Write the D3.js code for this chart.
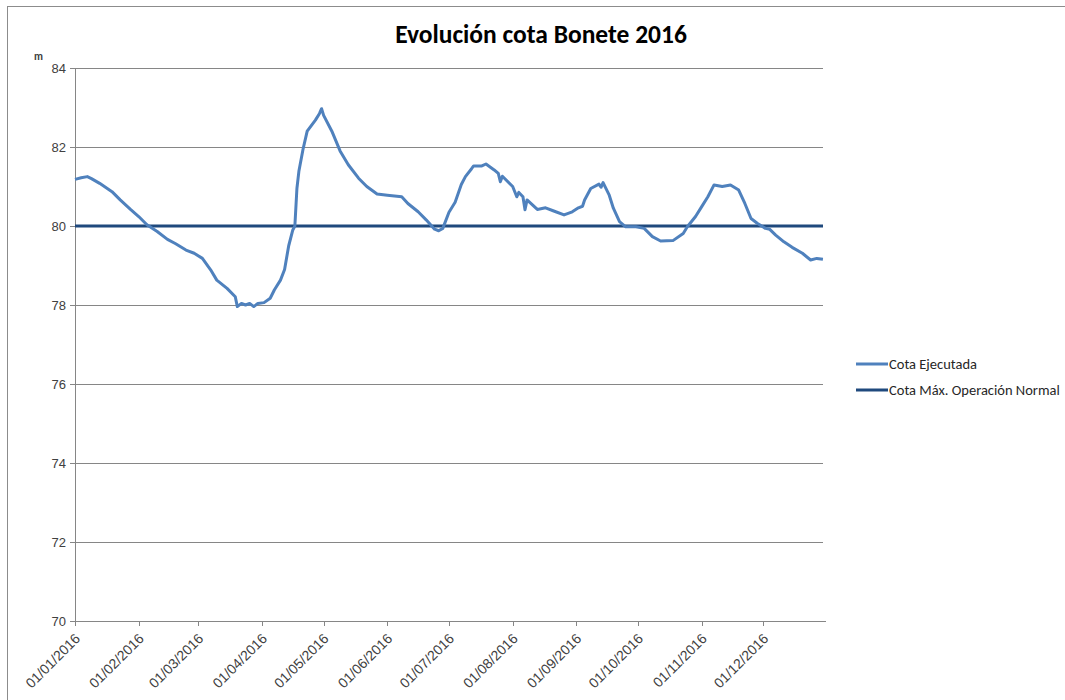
<!DOCTYPE html>
<html>
	<head>
		<meta charset="utf-8">
		<script src="https://d3js.org/d3.v7.min.js"></script>
		<style type="text/css">
			body {
				margin: 0;
				background: #fff;
			}

			svg {
				font-family: Carlito, Lato, "Open Sans", sans-serif;
			}

			.grid line {
				stroke: #868686;
				stroke-width: 1;
				shape-rendering: crispEdges;
			}

			.axis path,
			.axis line {
				fill: none;
				stroke: #868686;
				shape-rendering: crispEdges;
			}

			.axis text {
				fill: #404040;
				font-size: 13px;
			}

			.x.axis text {
				font-size: 14px;
			}
		</style>
	</head>
	<body>
		<script type="text/javascript">
			// daily readings (dd/mm/yyyy)
			var fechas = [
				"01/01/2016", "04/01/2016", "07/01/2016", "09/01/2016", "13/01/2016", "19/01/2016", "23/01/2016", "28/01/2016",
				"01/02/2016", "05/02/2016", "10/02/2016", "15/02/2016", "19/02/2016", "24/02/2016", "28/02/2016",
				"03/03/2016", "07/03/2016", "10/03/2016", "15/03/2016", "19/03/2016", "20/03/2016", "22/03/2016", "24/03/2016", "26/03/2016", "28/03/2016", "30/03/2016",
				"02/04/2016", "05/04/2016", "07/04/2016", "10/04/2016", "12/04/2016", "14/04/2016", "16/04/2016", "17/04/2016", "18/04/2016", "19/04/2016", "21/04/2016", "23/04/2016", "27/04/2016", "29/04/2016", "30/04/2016",
				"01/05/2016", "05/05/2016", "09/05/2016", "13/05/2016", "18/05/2016", "22/05/2016", "27/05/2016",
				"01/06/2016", "08/06/2016", "11/06/2016", "16/06/2016", "20/06/2016", "24/06/2016", "26/06/2016", "28/06/2016",
				"01/07/2016", "04/07/2016", "07/07/2016", "09/07/2016", "12/07/2016", "13/07/2016", "17/07/2016", "19/07/2016", "23/07/2016", "25/07/2016", "26/07/2016", "27/07/2016",
				"01/08/2016", "03/08/2016", "04/08/2016", "06/08/2016", "07/08/2016", "08/08/2016", "13/08/2016", "17/08/2016", "21/08/2016", "26/08/2016", "30/08/2016",
				"02/09/2016", "04/09/2016", "05/09/2016", "08/09/2016", "12/09/2016", "13/09/2016", "14/09/2016", "17/09/2016", "19/09/2016", "22/09/2016", "25/09/2016", "30/09/2016",
				"04/10/2016", "08/10/2016", "12/10/2016", "18/10/2016", "23/10/2016", "25/10/2016", "29/10/2016",
				"01/11/2016", "04/11/2016", "07/11/2016", "11/11/2016", "15/11/2016", "19/11/2016", "22/11/2016", "25/11/2016", "28/11/2016",
				"02/12/2016", "04/12/2016", "07/12/2016", "11/12/2016", "15/12/2016", "20/12/2016", "24/12/2016", "27/12/2016", "30/12/2016"
			];
			var cotaEjecutada = [
				81.18, 81.22, 81.25, 81.20, 81.08, 80.87, 80.66, 80.42,
				80.24, 80.03, 79.86, 79.66, 79.55, 79.39, 79.31,
				79.18, 78.89, 78.63, 78.42, 78.21, 77.96, 78.04, 78.00, 78.04, 77.96, 78.04,
				78.06, 78.17, 78.38, 78.63, 78.90, 79.50, 79.90, 80.00, 80.95, 81.40, 81.95, 82.40, 82.68, 82.85, 82.97,
				82.80, 82.40, 81.90, 81.55, 81.21, 81.00, 80.81,
				80.78, 80.74, 80.57, 80.36, 80.15, 79.92, 79.88, 79.94,
				80.35, 80.60, 81.05, 81.25, 81.45, 81.52, 81.52, 81.57, 81.42, 81.33, 81.12, 81.26,
				81.00, 80.74, 80.85, 80.74, 80.41, 80.66, 80.42, 80.46, 80.38, 80.28, 80.36,
				80.46, 80.50, 80.66, 80.95, 81.06, 80.98, 81.10, 80.78, 80.45, 80.11, 79.98, 79.98,
				79.94, 79.73, 79.62, 79.63, 79.81, 79.98, 80.24,
				80.49, 80.74, 81.04, 81.00, 81.04, 80.91, 80.57, 80.19, 80.07,
				79.94, 79.92, 79.77, 79.60, 79.46, 79.31, 79.14, 79.18, 79.16
			];
			var cotaMaxima = 80;
			var inicio = "01/01/2016";
			var fin = "31/12/2016";
			var yTicks = [70, 72, 74, 76, 78, 80, 82, 84];
			var series = ["Cota Ejecutada", "Cota Máx. Operación Normal"];
			var colores = ["#4F81BD", "#1F497D"];

			var W = 1065, H = 700;
			var margin = {top: 68, right: 240, bottom: 79, left: 75};
			var w = W - margin.left - margin.right;
			var h = H - margin.top - margin.bottom;

			var parse = d3.timeParse("%d/%m/%Y");
			var data = fechas.map(function (f, i) {
				return {fecha: parse(f), cota: cotaEjecutada[i]};
			});

			var x = d3.scaleTime()
				.domain([parse(inicio), parse(fin)])
				.range([0, w]);
			var y = d3.scaleLinear()
				.domain([70, 84])
				.range([h, 0]);

			var svg = d3.select("body").append("svg")
				.attr("width", W)
				.attr("height", H);

			// outer chart border
			svg.append("rect")
				.attr("x", 7.5)
				.attr("y", 6.5)
				.attr("width", W + 10)
				.attr("height", H + 10)
				.attr("fill", "none")
				.attr("stroke", "#8c8c8c");

			svg.append("text")
				.attr("x", 541)
				.attr("y", 43)
				.attr("text-anchor", "middle")
				.style("font-size", "25.5px")
				.style("font-weight", "bold")
				.style("fill", "#000")
				.text("Evolución cota Bonete 2016");

			var g = svg.append("g")
				.attr("transform", "translate(" + margin.left + "," + margin.top + ")");

			// horizontal gridlines
			g.append("g")
				.attr("class", "grid")
				.selectAll("line")
				.data(yTicks.slice(1))
				.enter().append("line")
				.attr("x1", 0)
				.attr("x2", w - 2)
				.attr("y1", function (d) { return y(d); })
				.attr("y2", function (d) { return y(d); });

			g.append("g")
				.attr("class", "axis")
				.call(d3.axisLeft(y).tickValues(yTicks).tickSize(5).tickPadding(4));

			g.append("text")
				.attr("x", -41)
				.attr("y", -8)
				.style("font-size", "11px")
				.style("font-weight", "bold")
				.style("fill", "#404040")
				.text("m");

			var meses = d3.timeMonth.range(parse(inicio), parse(fin));
			g.append("g")
				.attr("class", "x axis")
				.attr("transform", "translate(0," + h + ")")
				.call(d3.axisBottom(x).tickValues(meses).tickFormat(d3.timeFormat("%d/%m/%Y")).tickSize(5).tickSizeOuter(0))
				.selectAll("text")
				.attr("text-anchor", "end")
				.attr("x", 0)
				.attr("y", 0)
				.attr("dy", "0.35em")
				.attr("transform", "translate(2,15) rotate(-45)");

			// max normal operation level
			g.append("line")
				.attr("x1", 0)
				.attr("x2", w - 2)
				.attr("y1", y(cotaMaxima))
				.attr("y2", y(cotaMaxima))
				.attr("stroke", colores[1])
				.attr("stroke-width", 3);

			var line = d3.line()
				.x(function (d) { return x(d.fecha); })
				.y(function (d) { return y(d.cota); });

			g.append("path")
				.datum(data)
				.attr("d", line)
				.attr("fill", "none")
				.attr("stroke", colores[0])
				.attr("stroke-width", 3)
				.attr("stroke-linejoin", "round");

			// legend
			var legend = svg.selectAll(".legend")
				.data(series)
				.enter().append("g")
				.attr("class", "legend")
				.attr("transform", function (d, i) {
					return "translate(856," + (364 + i * 26) + ")";
				});

			legend.append("line")
				.attr("x1", 0)
				.attr("x2", 32)
				.attr("stroke", function (d, i) { return colores[i]; })
				.attr("stroke-width", 3);

			legend.append("text")
				.attr("x", 33)
				.attr("y", 4.5)
				.style("font-size", "14.5px")
				.style("fill", "#262626")
				.text(function (d) { return d; });
		</script>
	</body>
</html>
